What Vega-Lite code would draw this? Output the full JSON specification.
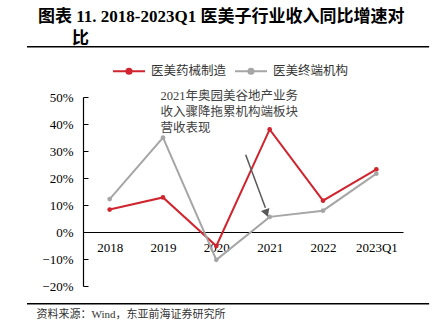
{
  "$schema": "https://vega.github.io/schema/vega-lite/v6.json",
  "width": 320,
  "height": 189,
  "autosize": {"type": "none"},
  "padding": {"left": 83, "top": 97, "right": 36, "bottom": 48},
  "background": "white",
  "config": {
    "view": {"stroke": null},
    "font": "Liberation Serif, Noto Sans CJK SC",
    "axisY": {
      "grid": false,
      "domainColor": "#000000",
      "domainWidth": 1.2,
      "tickColor": "#000000",
      "tickSize": -5,
      "labelPadding": 15,
      "labelFontSize": 13,
      "labelColor": "#000000",
      "labelFont": "Liberation Serif"
    }
  },
  "title": {
    "text": ["图表 11. 2018-2023Q1 医美子行业收入同比增速对", "\u200b\u3000\u3000比"],
    "anchor": "start",
    "frame": "group",
    "dx": -45,
    "offset": -2,
    "fontSize": 17,
    "fontWeight": "bold",
    "font": "Liberation Serif, Noto Sans CJK SC",
    "color": "#000000",
    "lineHeight": 22
  },
  "datasets": {
    "growth": [
      {"year": "2018", "series": "医美药械制造", "value": 0.083},
      {"year": "2019", "series": "医美药械制造", "value": 0.128},
      {"year": "2020", "series": "医美药械制造", "value": -0.052},
      {"year": "2021", "series": "医美药械制造", "value": 0.38},
      {"year": "2022", "series": "医美药械制造", "value": 0.116},
      {"year": "2023Q1", "series": "医美药械制造", "value": 0.232},
      {"year": "2018", "series": "医美终端机构", "value": 0.122},
      {"year": "2019", "series": "医美终端机构", "value": 0.35},
      {"year": "2020", "series": "医美终端机构", "value": -0.103},
      {"year": "2021", "series": "医美终端机构", "value": 0.056},
      {"year": "2022", "series": "医美终端机构", "value": 0.079},
      {"year": "2023Q1", "series": "医美终端机构", "value": 0.216}
    ],
    "one": [{"note": "2021年奥园美谷地产业务收入骤降拖累机构端板块营收表现"}]
  },
  "layer": [
    {
      "data": {"name": "growth"},
      "mark": {"type": "line", "strokeWidth": 2, "point": {"filled": true, "size": 22}},
      "encoding": {
        "x": {
          "field": "year",
          "type": "ordinal",
          "sort": null,
          "scale": {"type": "point", "padding": 0.5},
          "axis": {
            "orient": "bottom",
            "offset": -54,
            "labelAngle": 0,
            "ticks": false,
            "domainColor": "#000000",
            "domainWidth": 1.2,
            "labelPadding": 9,
            "labelFontSize": 13,
            "labelColor": "#000000",
            "title": "资料来源：Wind，东亚前海证券研究所",
            "titleX": -47,
            "titleY": 82,
            "titleAlign": "left",
            "titleAnchor": "start",
            "titleBaseline": "middle",
            "titleFontSize": 11,
            "titleFontWeight": "normal",
            "titleColor": "#333333"
          }
        },
        "y": {
          "field": "value",
          "type": "quantitative",
          "scale": {"domain": [-0.2, 0.5], "nice": false, "zero": false},
          "axis": {"values": [-0.2, -0.1, 0, 0.1, 0.2, 0.3, 0.4, 0.5], "format": ".0%", "title": null}
        },
        "color": {
          "field": "series",
          "type": "nominal",
          "scale": {"domain": ["医美药械制造", "医美终端机构"], "range": ["#d0252f", "#a6a6a6"]},
          "legend": {
            "orient": "none",
            "direction": "horizontal",
            "legendX": 29,
            "legendY": -43,
            "title": null,
            "symbolType": "M-1,0H1M-0.16,0a0.16,0.16 0 1,0 0.32,0a0.16,0.16 0 1,0 -0.32,0",
            "symbolSize": 1024,
            "symbolStrokeWidth": 2,
            "labelFontSize": 12.5,
            "labelColor": "#333333",
            "labelOffset": 5,
            "columnPadding": 4
          }
        }
      }
    },
    {
      "data": {"name": "one"},
      "mark": {"type": "text", "align": "left", "baseline": "top", "fontSize": 12.5, "lineHeight": 16, "color": "#404040",
        "text": ["2021年奥园美谷地产业务", "收入骤降拖累机构端板块", "营收表现"]},
      "encoding": {
        "x": {"datum": 0.955, "type": "quantitative", "scale": {"domain": [-0.5, 5.5]}, "axis": null},
        "y": {"datum": 0.525, "type": "quantitative", "scale": {"domain": [-0.2, 0.5], "nice": false, "zero": false},
          "axis": {"values": [-0.2, -0.1, 0, 0.1, 0.2, 0.3, 0.4, 0.5], "format": ".0%", "title": null}}
      }
    },
    {
      "data": {"name": "one"},
      "mark": {"type": "rule", "color": "#595959", "strokeWidth": 1.5},
      "encoding": {
        "x": {"datum": 2.55, "type": "quantitative", "scale": {"domain": [-0.5, 5.5]}, "axis": null},
        "y": {"datum": 0.286, "type": "quantitative", "scale": {"domain": [-0.2, 0.5], "nice": false, "zero": false},
          "axis": {"values": [-0.2, -0.1, 0, 0.1, 0.2, 0.3, 0.4, 0.5], "format": ".0%", "title": null}},
        "x2": {"datum": 2.92},
        "y2": {"datum": 0.09}
      }
    },
    {
      "data": {"name": "one"},
      "mark": {"type": "point", "shape": "triangle-down", "filled": true, "color": "#595959", "size": 80, "angle": 340, "opacity": 1},
      "encoding": {
        "x": {"datum": 2.94, "type": "quantitative", "scale": {"domain": [-0.5, 5.5]}, "axis": null},
        "y": {"datum": 0.07, "type": "quantitative", "scale": {"domain": [-0.2, 0.5], "nice": false, "zero": false},
          "axis": {"values": [-0.2, -0.1, 0, 0.1, 0.2, 0.3, 0.4, 0.5], "format": ".0%", "title": null}}
      }
    },
    {
      "data": {"name": "one"},
      "mark": {"type": "rule", "color": "#000000", "strokeWidth": 1.5},
      "encoding": {
        "x": {"datum": -1.55, "type": "quantitative", "scale": {"domain": [-0.5, 5.5]}, "axis": null},
        "x2": {"datum": 5.99},
        "y": {"datum": 0.686, "type": "quantitative", "scale": {"domain": [-0.2, 0.5], "nice": false, "zero": false},
          "axis": {"values": [-0.2, -0.1, 0, 0.1, 0.2, 0.3, 0.4, 0.5], "format": ".0%", "title": null}}
      }
    },
    {
      "data": {"name": "one"},
      "mark": {"type": "rule", "color": "#000000", "strokeWidth": 1.5},
      "encoding": {
        "x": {"datum": -1.55, "type": "quantitative", "scale": {"domain": [-0.5, 5.5]}, "axis": null},
        "x2": {"datum": 5.99},
        "y": {"datum": -0.2656, "type": "quantitative", "scale": {"domain": [-0.2, 0.5], "nice": false, "zero": false},
          "axis": {"values": [-0.2, -0.1, 0, 0.1, 0.2, 0.3, 0.4, 0.5], "format": ".0%", "title": null}}
      }
    }
  ],
  "resolve": {"scale": {"x": "independent"}}
}
